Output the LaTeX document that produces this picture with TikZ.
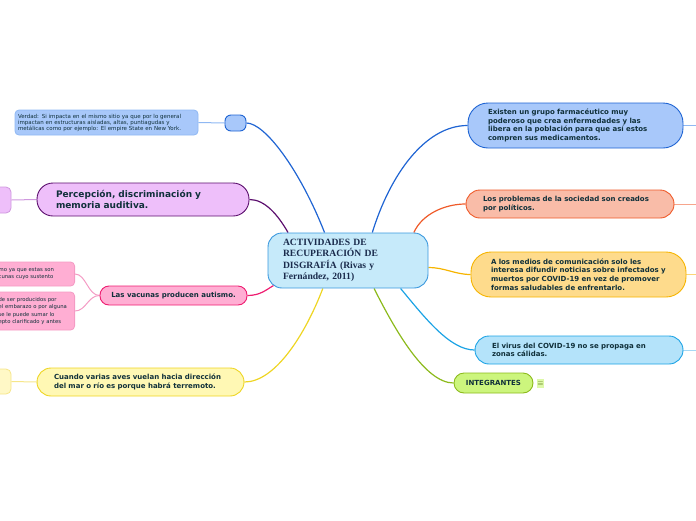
\documentclass[tikz,border=0pt]{standalone}
\usepackage{fontspec}
\usetikzlibrary{backgrounds}
\newfontfamily\mapsans{DejaVu Sans}
\newfontfamily\mapserif{Liberation Serif}

\definecolor{inkdark}{HTML}{10303A}
\definecolor{rootink}{HTML}{1A2B4C}
\definecolor{rootfill}{HTML}{C6EAFA}
\definecolor{rootline}{HTML}{3A98DE}
\definecolor{bluline}{HTML}{1F64D3}
\definecolor{blufill}{HTML}{A8C8FA}
\definecolor{bluleaf}{HTML}{8FB8F3}
\definecolor{purline}{HTML}{5C0F6E}
\definecolor{purfill}{HTML}{EEBFFA}
\definecolor{purleaf}{HTML}{CF98DE}
\definecolor{pnkline}{HTML}{EE1C70}
\definecolor{pnkfill}{HTML}{FFAED3}
\definecolor{pnkleaf}{HTML}{F49BC4}
\definecolor{yelline}{HTML}{EED523}
\definecolor{yelfill}{HTML}{FFF8B4}
\definecolor{yelleaf}{HTML}{F6E68A}
\definecolor{yelpale}{HTML}{FFF8C6}
\definecolor{salline}{HTML}{EF5B2A}
\definecolor{salfill}{HTML}{F9BCA8}
\definecolor{salleaf}{HTML}{F7A58C}
\definecolor{orgline}{HTML}{F6B400}
\definecolor{orgfill}{HTML}{FEDB8C}
\definecolor{orgleaf}{HTML}{FCD676}
\definecolor{skyline}{HTML}{1CA3E5}
\definecolor{skyfill}{HTML}{B4E3FA}
\definecolor{skyleaf}{HTML}{A5D8F5}
\definecolor{grnline}{HTML}{8CBA1C}
\definecolor{grnfill}{HTML}{CCF57D}
\definecolor{grnicon}{HTML}{DDF9A8}

\begin{document}
\begin{tikzpicture}[x=1pt,y=-1pt]

\tikzset{
  topic/.style={draw, line width=0.9pt, rounded corners=14pt, align=left, inner xsep=18pt, inner ysep=0pt,
    text=inkdark, font=\mapsans\bfseries\fontsize{7}{8.7}\selectfont},
  note/.style={draw, line width=0.8pt, rounded corners=4pt, align=left, inner xsep=3pt, inner ysep=0pt,
    text=inkdark, font=\mapsans\fontsize{5.5}{6}\selectfont},
  leaf/.style={draw, line width=0.8pt, rounded corners=5pt, inner sep=0pt},
  link/.style={line width=1.2pt},
  twig/.style={line width=1pt},
}

\useasboundingbox (0,0) rectangle (696,520);
\clip (0,0) rectangle (696,520);

% centre
\node[topic, draw=rootline, fill=rootfill, text=rootink, text width=130pt, inner xsep=15pt,
  minimum height=55pt, font=\mapserif\bfseries\fontsize{9.6}{11.4}\selectfont] (root) at (348,260.5)
  {ACTIVIDADES DE\\RECUPERACIÓN DE\\DISGRAFÍA (Rivas y\\Fernández, 2011)};

% right branches
\node[topic, draw=bluline, fill=blufill, text width=175pt, inner xsep=20pt, minimum height=45pt, rounded corners=20pt] (pharma) at (575.5,125.5)
  {Existen un grupo farmacéutico muy\\poderoso que crea enfermedades y las\\libera en la población para que así estos\\compren sus medicamentos.};
\node[topic, draw=salline, fill=salfill, text width=174pt, inner xsep=17pt, minimum height=28pt] (politics) at (570,204)
  {Los problemas de la sociedad son creados\\por políticos.};
\node[topic, draw=orgline, fill=orgfill, text width=175pt, inner xsep=20pt, minimum height=45pt, rounded corners=20pt] (media) at (578.5,274.5)
  {A los medios de comunicación solo les\\interesa difundir noticias sobre infectados y\\muertos por COVID-19 en vez de promover\\formas saludables de enfrentarlo.};
\node[topic, draw=skyline, fill=skyfill, text width=174pt, inner xsep=17pt, minimum height=28pt] (virus) at (579,350)
  {El virus del COVID-19 no se propaga en\\zonas cálidas.};
\node[topic, draw=grnline, fill=grnfill, align=center, minimum width=79pt, minimum height=20pt, inner xsep=6pt, rounded corners=10pt] (team) at (493.5,383)
  {INTEGRANTES};
\node[fill=grnicon, text=grnline!60!black, inner sep=0pt, minimum width=7pt, minimum height=9pt, font=\fontsize{7}{7}\selectfont] (teamnote) at (540.5,383.5) {$\equiv$};

\coordinate (pharmaout) at (696,125.5);
\coordinate (politicsout) at (696,204);
\coordinate (mediaout) at (696,274.5);
\coordinate (virusout) at (696,350);

% left branches
\node[topic, draw=bluline, fill=blufill, minimum width=21pt, minimum height=16pt, inner sep=0pt, rounded corners=6pt] (lightning) at (235.5,123) {};
\node[note, draw=bluleaf, fill=blufill, text width=177pt, minimum height=25pt] (truth) at (106.5,122.5)
  {Verdad: Si impacta en el mismo sitio ya que por lo general\\impactan en estructuras aisladas, altas, puntiagudas y\\metálicas como por ejemplo: El empire State en New York.};
\node[topic, draw=purline, fill=purfill, text width=174pt, inner xsep=19pt, minimum height=33pt, rounded corners=16pt,
  font=\mapsans\bfseries\fontsize{9}{11}\selectfont] (hearing) at (143,199.5)
  {Percepción, discriminación y\\memoria auditiva.};
\node[leaf, draw=purleaf, fill=purfill, minimum width=40pt, minimum height=26pt] (hearingsub) at (-9,200) {};
\node[topic, draw=pnkline, fill=pnkfill, align=center, minimum width=147pt, minimum height=19pt, inner xsep=4pt, rounded corners=9pt] (vaccines) at (173.5,295.5)
  {Las vacunas producen autismo.};
\node[note, draw=pnkleaf, fill=pnkfill, text width=72pt, inner xsep=4pt, minimum height=24pt, anchor=east,
  font=\mapsans\fontsize{5.3}{7.2}\selectfont] (vaccinesa) at (75,274)
  {mo ya que estas son\\cunas cuyo sustento};
\node[note, draw=pnkleaf, fill=pnkfill, text width=72pt, inner xsep=4pt, minimum height=38pt, anchor=east,
  font=\mapsans\fontsize{5.3}{7.3}\selectfont] (vaccinesb) at (75,311)
  {de ser producidos por\\el embarazo o por alguna\\se le puede sumar lo\\epto clarificado y antes};
\node[topic, draw=yelline, fill=yelfill, text width=173pt, inner xsep=17pt, minimum height=28pt] (birds) at (140.5,382)
  {Cuando varias aves vuelan hacia dirección\\del mar o río es porque habrá terremoto.};
\node[leaf, draw=yelleaf, fill=yelpale, minimum width=40pt, minimum height=25pt] (birdssub) at (-9,381.5) {};

\begin{scope}[on background layer]
\draw[link, bluline] (root.130) .. controls (300,170) and (265,123) .. (lightning.east);
\draw[link, purline] (root.155) .. controls (278,215) and (265,199.5) .. (hearing.east);
\draw[link, pnkline] ([xshift=6pt,yshift=3pt]root.south west) .. controls (266,290) and (260,295.5) .. (vaccines.east);
\draw[link, yelline] (root.228) .. controls (305,335) and (275,382) .. (birds.east);
\draw[link, bluline] (root.49) .. controls (390,175) and (425,125.5) .. (pharma.west);
\draw[link, salline] (root.23) .. controls (422,214) and (445,204) .. (politics.west);
\draw[link, orgline] (root.355) .. controls (445,267.5) and (455,274.5) .. (media.west);
\draw[link, skyline] (root.332) .. controls (425,318) and (450,350) .. (virus.west);
\draw[link, grnline] (root.313) .. controls (395,330) and (425,383) .. (team.west);

\draw[twig, bluleaf] (truth.east) -- (lightning.west);
\draw[twig, purleaf] (hearingsub.east) -- (hearing.west);
\draw[twig, yelleaf] (birdssub.east) -- (birds.west);
\draw[twig, pnkleaf] (vaccines.west) .. controls (88,295.5) and (86,274) .. (vaccinesa.east);
\draw[twig, pnkleaf] (vaccines.west) .. controls (88,295.5) and (86,311) .. (vaccinesb.east);
\draw[twig, bluleaf] (pharma.east) -- (pharmaout);
\draw[twig, salleaf] (politics.east) -- (politicsout);
\draw[twig, orgleaf] (media.east) -- (mediaout);
\draw[twig, skyleaf] (virus.east) -- (virusout);
\end{scope}

\end{tikzpicture}
\end{document}
